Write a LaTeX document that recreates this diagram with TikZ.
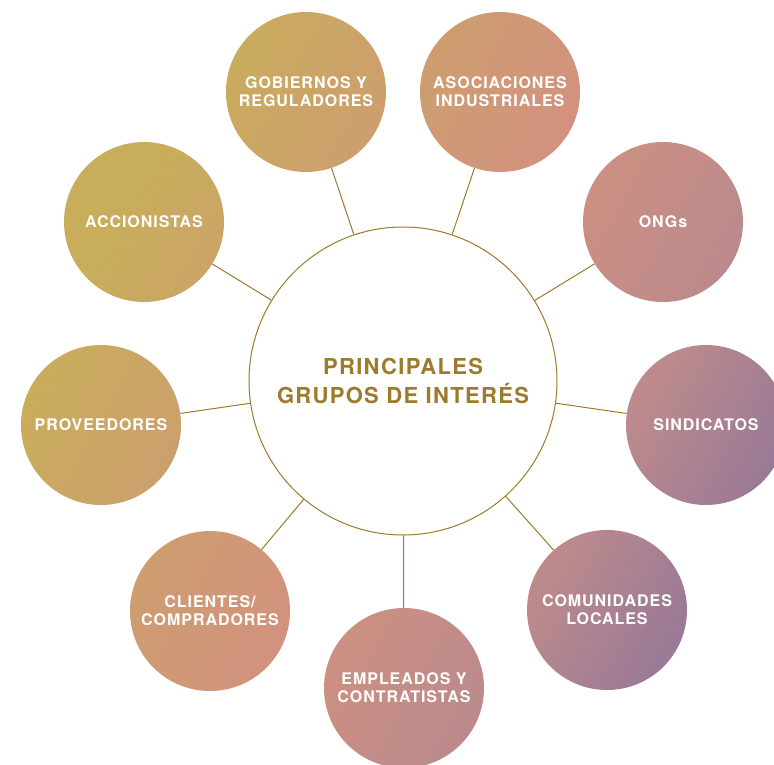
\documentclass[tikz,border=0pt]{standalone}
\usepackage{fontspec}
\usepackage{tikz}
\usetikzlibrary{backgrounds}
\newfontfamily\lblfont[LetterSpace=6]{TeX Gyre Heros}
\definecolor{lineGold}{HTML}{9C7B2A}
\definecolor{tGold}{HTML}{C8AE5A}
\definecolor{tTan}{HTML}{CCA06C}
\definecolor{tSalmon}{HTML}{D2927E}
\definecolor{tMauve}{HTML}{BC8A8C}
\definecolor{tPurple}{HTML}{9A7A96}
\pgfdeclarehorizontalshading{stakeshade}{100bp}{color(0bp)=(tGold); color(29.7bp)=(tGold); color(40.3bp)=(tTan); color(51.6bp)=(tSalmon); color(64.7bp)=(tMauve); color(73.4bp)=(tPurple); color(100bp)=(tPurple)}
\tikzset{
  stake/.style={circle, minimum size=160pt, inner sep=0pt, text=white, align=center,
    font=\lblfont\bfseries\fontsize{16}{18}\selectfont},
  hub/.style={circle, minimum size=308pt, inner sep=0pt, draw=lineGold, line width=1pt,
    fill=white, text=lineGold, align=center, font=\lblfont\bfseries\fontsize{22}{29}\selectfont},
  link/.style={draw=lineGold, line width=1pt}
}
\begin{document}
\begin{tikzpicture}[x=1pt,y=-1pt]
  \useasboundingbox (0,0) rectangle (774,765);
    \draw (403,381) node[hub] (hub) {PRINCIPALES\\GRUPOS DE INTERÉS};
    \draw (306,92) node[stake] (gob) {GOBIERNOS Y\\REGULADORES};
    \draw (500,92) node[stake] (aso) {ASOCIACIONES\\INDUSTRIALES};
    \draw (663,222) node[stake] (ong) {ONGs};
    \draw (706,425) node[stake] (sin) {SINDICATOS};
    \draw (607,610) node[stake] (com) {COMUNIDADES\\LOCALES};
    \draw (404,688) node[stake] (emp) {EMPLEADOS Y\\CONTRATISTAS};
    \draw (210,611) node[stake] (cli) {CLIENTES/\\COMPRADORES};
    \draw (101,425) node[stake] (pro) {PROVEEDORES};
    \draw (144,222) node[stake] (acc) {ACCIONISTAS};
  \begin{scope}[on background layer]
    \clip \foreach \s in {gob,aso,ong,sin,com,emp,cli,pro,acc} {(\s.center) circle[radius=80pt]};
    \shade[shading=stakeshade, shading angle=-29] (-13,-18) rectangle (787,783);
  \end{scope}
       \foreach \s in {gob,aso,ong,sin,com,emp,cli,pro,acc}
         \path[link] (hub) edge (\s);
\end{tikzpicture}
\end{document}
